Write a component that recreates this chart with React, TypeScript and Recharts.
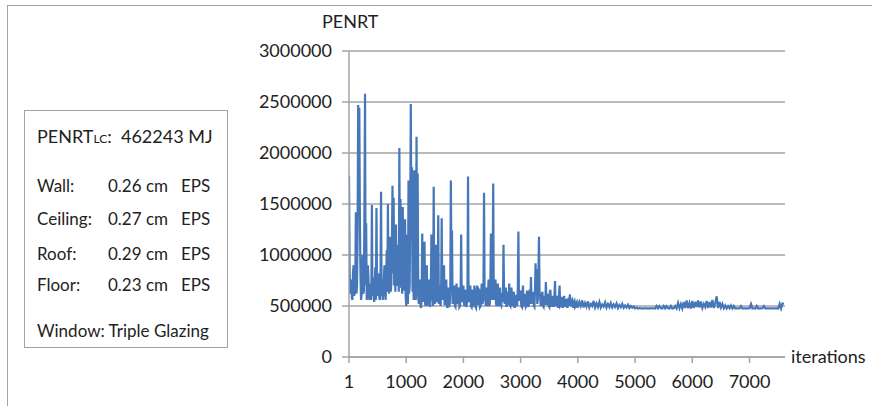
import { LineChart, Line, XAxis, YAxis, CartesianGrid } from 'recharts';

// PENRT per iteration, in thousands of MJ
// early run: iterations 1..3991, every 10th iteration
const penrtEarlyK = [
  1780, 900, 620, 700, 760, 580, 560, 820, 900, 600, 640, 760, 1420, 620, 700, 1200, 2470, 2300, 2440, 1400,
  820, 560, 600, 880, 1000, 620, 650, 1500, 2580, 700, 1310, 560, 620, 900, 780, 580, 560, 720, 680, 560,
  1490, 600, 620, 780, 540, 700, 880, 560, 1460, 680, 600, 820, 760, 580, 560, 740, 1620, 600, 700, 560,
  640, 780, 900, 620, 560, 800, 1050, 640, 1500, 720, 620, 900, 1180, 640, 720, 1100, 1680, 820, 1560, 700,
  900, 640, 1300, 720, 700, 880, 1100, 640, 2050, 760, 1550, 680, 800, 620, 1470, 700, 650, 960, 1350, 600,
  500, 640, 1200, 520, 1730, 620, 700, 1400, 2480, 1200, 1860, 640, 1100, 560, 1830, 720, 650, 560, 2160, 700,
  1800, 600, 520, 680, 760, 500, 480, 640, 1210, 540, 620, 700, 1130, 520, 500, 660, 900, 500, 560, 640,
  760, 520, 490, 680, 1200, 560, 640, 500, 1670, 620, 520, 700, 1100, 540, 560, 660, 1390, 520, 700, 560,
  500, 640, 1360, 560, 600, 700, 900, 520, 520, 660, 760, 500, 480, 620, 680, 490, 520, 640, 1730, 900,
  1240, 520, 560, 680, 700, 500, 490, 640, 720, 520, 540, 680, 660, 490, 500, 620, 1200, 540, 560, 660,
  700, 520, 500, 660, 640, 490, 520, 620, 1770, 540, 560, 680, 700, 500, 490, 640, 660, 510, 520, 700,
  640, 490, 480, 620, 700, 520, 520, 660, 650, 490, 500, 640, 720, 520, 540, 700, 1610, 560, 600, 500,
  680, 520, 500, 640, 760, 500, 520, 680, 1210, 600, 560, 820, 1700, 560, 640, 700, 760, 520, 500, 660,
  720, 500, 540, 640, 680, 510, 500, 620, 620, 540, 1100, 600, 520, 660, 680, 500, 500, 620, 640, 510,
  720, 510, 500, 640, 680, 500, 520, 620, 640, 490, 490, 600, 600, 500, 520, 680, 1230, 560, 560, 640,
  640, 500, 490, 620, 700, 510, 520, 600, 620, 490, 500, 640, 640, 510, 490, 600, 660, 520, 785, 560,
  520, 600, 640, 500, 490, 640, 920, 700, 860, 520, 560, 820, 1180, 620, 600, 500, 520, 620, 640, 500,
  490, 580, 600, 510, 735, 560, 510, 600, 620, 500, 490, 640, 660, 500, 500, 580, 600, 500, 500, 600,
  745, 520, 500, 580, 600, 490, 490, 620, 700, 500, 510, 580, 580, 490, 490, 560, 600, 500, 500, 560,
  560, 490, 490, 560, 580, 500, 615, 520, 500, 550, 560, 490, 490, 540, 550, 490, 500, 530, 540, 490,
];

// late run: iterations 4001..7601, every 25th iteration
const penrtLateK = [
  490, 540, 500, 555, 485, 530, 495, 545, 485, 520, 500, 550, 485, 525, 490, 540, 485, 515, 495, 535,
  485, 520, 490, 530, 485, 515, 490, 525, 480, 510, 488, 520, 482, 505, 486, 512, 480, 500, 484, 495,
  476, 482, 475, 480, 476, 478, 475, 480, 476, 478, 475, 480, 476, 478, 476, 500, 476, 498, 478, 476,
  500, 476, 498, 478, 476, 500, 476, 478, 500, 476, 530, 478, 520, 476, 540, 480, 555, 478, 530, 476,
  550, 480, 540, 490, 555, 485, 545, 480, 520, 490, 550, 480, 540, 485, 560, 480, 530, 595, 480, 540,
  485, 520, 478, 505, 476, 500, 478, 505, 476, 500, 476, 478, 476, 478, 500, 476, 478, 476, 478, 476,
  478, 520, 476, 478, 476, 500, 476, 478, 476, 478, 500, 476, 476, 478, 476, 478, 476, 478, 476, 478,
  476, 520, 476, 525, 520,
];

const xTicks = [1, 1000, 2000, 3000, 4000, 5000, 6000, 7000];
const yTicks = [0, 500000, 1000000, 1500000, 2000000, 2500000, 3000000];

const boxTitle = { label: 'PENRT', sub: 'LC', value: '462243 MJ' };
const boxRows = [
  { name: 'Wall:', thickness: '0.26 cm', material: 'EPS' },
  { name: 'Ceiling:', thickness: '0.27 cm', material: 'EPS' },
  { name: 'Roof:', thickness: '0.29 cm', material: 'EPS' },
  { name: 'Floor:', thickness: '0.23 cm', material: 'EPS' },
];
const windowText = 'Window: Triple Glazing';

const data = [
  ...penrtEarlyK.map((v, i) => ({ it: 1 + i * 10, penrt: v * 1000 })),
  ...penrtLateK.map((v, i) => ({ it: 4001 + i * 25, penrt: v * 1000 })),
];

const FONT = 'Lato, "Open Sans", sans-serif';
const GRAY = '#a3a3a3';
const TEXT = '#222';
const rowTops = [175, 208, 243, 274];

export default function App() {
  return (
    <div style={{ position: 'absolute', left: 0, top: 0, width: 872, height: 406, background: '#fff', overflow: 'hidden', fontFamily: FONT, color: TEXT }}>
      <div style={{ position: 'absolute', left: 7, top: 5, width: 900, height: 450, borderLeft: `1px solid ${GRAY}`, borderTop: `1px solid ${GRAY}` }} />

      <LineChart width={872} height={406} data={data} margin={{ top: 51, right: 87, bottom: 19, left: 0 }}>
        <CartesianGrid vertical={false} stroke={GRAY} strokeWidth={1.5} />
        <XAxis
          dataKey="it"
          type="number"
          domain={[1, 7620]}
          ticks={xTicks}
          allowDataOverflow
          height={30}
          stroke={GRAY}
          strokeWidth={1.5}
          tickSize={6}
          tickMargin={12}
          tick={{ fill: TEXT, fontSize: 18, fontFamily: FONT }}
        />
        <YAxis
          type="number"
          domain={[0, 3000000]}
          ticks={yTicks}
          width={349}
          stroke={GRAY}
          strokeWidth={1.5}
          tickSize={7}
          tickMargin={10}
          tickFormatter={(v: number) => String(v)}
          tick={{ fill: TEXT, fontSize: 18, fontFamily: FONT }}
        />
        <Line type="linear" dataKey="penrt" stroke="#4677b8" strokeWidth={2.2} dot={false} isAnimationActive={false} />
      </LineChart>

      <div style={{ position: 'absolute', left: 322, top: 10, fontSize: 18 }}>PENRT</div>
      <div style={{ position: 'absolute', left: 791, top: 345, fontSize: 18 }}>iterations</div>

      <div style={{ position: 'absolute', left: 24, top: 110, width: 202, height: 236, border: `1.5px solid ${GRAY}` }} />
      <div style={{ position: 'absolute', left: 37, top: 125, fontSize: 18, whiteSpace: 'nowrap' }}>
        {boxTitle.label}
        <span style={{ fontSize: 12 }}>{boxTitle.sub}</span>:&nbsp; {boxTitle.value}
      </div>
      {boxRows.map((r, i) => (
        <div key={r.name} style={{ position: 'absolute', top: rowTops[i], left: 0, fontSize: 17, whiteSpace: 'nowrap' }}>
          <span style={{ position: 'absolute', left: 37 }}>{r.name}</span>
          <span style={{ position: 'absolute', left: 108 }}>{r.thickness}</span>
          <span style={{ position: 'absolute', left: 181 }}>{r.material}</span>
        </div>
      ))}
      <div style={{ position: 'absolute', left: 37, top: 320, fontSize: 17, whiteSpace: 'nowrap' }}>{windowText}</div>
    </div>
  );
}
